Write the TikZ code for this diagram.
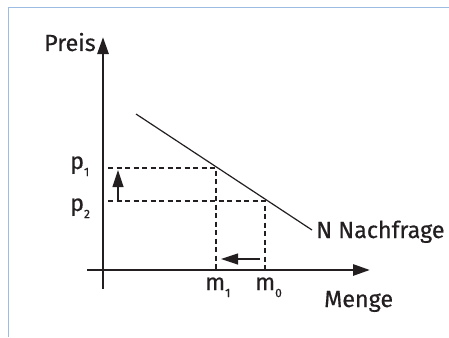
\documentclass[tikz,border=0pt]{standalone}
\usepackage{fontspec}
\setmainfont{Fira Sans}[BoldFont={Fira Sans},BoldFeatures={FakeBold=0.45}]
\usetikzlibrary{arrows.meta}
\definecolor{txt}{HTML}{231F20}
\definecolor{framecol}{HTML}{9DBCE3}
\newcommand{\sbs}[1]{\raisebox{-7pt}{\fontsize{12}{12}\selectfont #1}}
\tikzset{
  lbl/.style={inner sep=0pt, text=txt, font=\fontsize{23.3}{26}\selectfont\bfseries, anchor=base west},
  axisline/.style={line width=2.8pt, draw=txt, -{Triangle[length=17pt,width=11pt]}},
  demandline/.style={line width=1.2pt, draw=txt},
  guideline/.style={line width=1.1pt, draw=txt, dash pattern=on 5pt off 3.5pt},
  movearrow/.style={line width=1.2pt, draw=txt, -{Triangle[length=17pt,width=11pt]}},
}
\begin{document}
\begin{tikzpicture}[x=1pt,y=-1pt]
\useasboundingbox (0,0) rectangle (449,337);
\draw[framecol, line width=1pt] (8,337) -- (8,8) -- (449,8);
% axes
\coordinate (ybot) at (103,289);
\coordinate (ytop) at (103,37);
\coordinate (xleft) at (87,270);
\coordinate (xright) at (370,270);
\draw[axisline] (ybot) -- (ytop);
\draw[axisline] (xleft) -- (xright);
% demand
\coordinate (d1) at (136,114);
\coordinate (d2) at (312,230);
\draw[demandline] (d1) -- (d2);
% guides
\coordinate (p1l) at (108,168);
\coordinate (p1r) at (216,168);
\coordinate (m1b) at (216,270);
\coordinate (p2l) at (108,201);
\coordinate (p2r) at (265,201);
\coordinate (m0b) at (265,270);
\draw[guideline] (p1l) -- (p1r) -- (m1b);
\draw[guideline] (p2l) -- (p2r) -- (m0b);
% shift arrows
\coordinate (ua) at (118,201);
\coordinate (ub) at (118,170);
\coordinate (la) at (260,259);
\coordinate (lb) at (221,259);
\draw[movearrow] (ua) -- (ub);
\draw[movearrow] (la) -- (lb);
% labels
\node[lbl] (preis) at (44,51) {Preis};
\node[lbl] (nach) at (316,238) {N Nachfrage};
\node[lbl] (menge) at (324,307) {Menge};
\node[lbl] (p1) at (70,169) {p\sbs{1}};
\node[lbl] (p2) at (70,211) {p\sbs{2}};
\node[lbl] (m1) at (205,290) {m\sbs{1}};
\node[lbl] (m0) at (255,290) {m\sbs{0}};
\end{tikzpicture}
\end{document}
